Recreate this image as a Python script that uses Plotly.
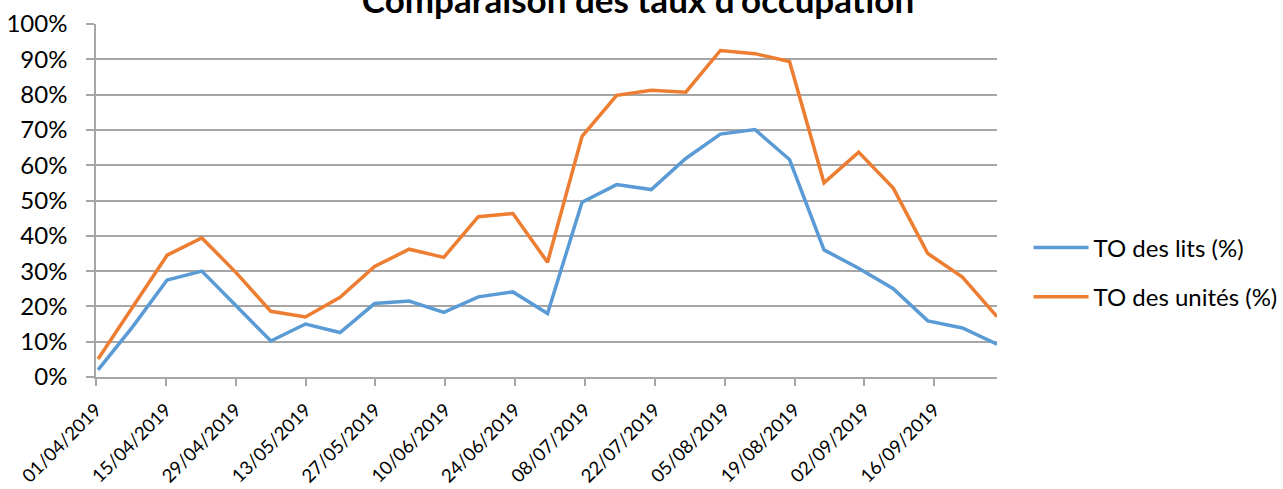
import plotly.graph_objects as go

# Data
dates = [
    "2019-04-01 10:00", "2019-04-08 08:00", "2019-04-15 06:00", "2019-04-22 05:00",
    "2019-04-29 03:00", "2019-05-06 01:00", "2019-05-12 23:30", "2019-05-19 22:00",
    "2019-05-26 20:00", "2019-06-02 18:30", "2019-06-09 17:00", "2019-06-16 15:00",
    "2019-06-23 13:30", "2019-06-30 12:00", "2019-07-07 10:00", "2019-07-14 08:30",
    "2019-07-21 07:00", "2019-07-28 05:00", "2019-08-04 03:30", "2019-08-11 01:30",
    "2019-08-18 00:00", "2019-08-24 22:00", "2019-08-31 20:30", "2019-09-07 19:00",
    "2019-09-14 17:00", "2019-09-21 15:30", "2019-09-28 14:00",
]
to_lits = [2.0, 14.2, 27.5, 30.0, 20.1, 10.2, 15.0, 12.6, 20.8, 21.5, 18.3, 22.7,
           24.1, 18.0, 49.5, 54.5, 53.1, 61.9, 68.8, 70.1, 61.6, 36.0, 30.8, 25.0,
           15.9, 13.9, 9.3]
to_unites = [5.1, 19.8, 34.5, 39.4, 29.5, 18.6, 17.0, 22.6, 31.3, 36.2, 33.9, 45.4,
             46.3, 32.5, 68.2, 79.8, 81.2, 80.7, 92.5, 91.6, 89.4, 55.0, 63.7, 53.5,
             35.0, 28.3, 17.1]
tick_dates = ["2019-04-01", "2019-04-15", "2019-04-29", "2019-05-13", "2019-05-27",
              "2019-06-10", "2019-06-24", "2019-07-08", "2019-07-22", "2019-08-05",
              "2019-08-19", "2019-09-02", "2019-09-16"]
tick_labels = ["01/04/2019", "15/04/2019", "29/04/2019", "13/05/2019", "27/05/2019",
               "10/06/2019", "24/06/2019", "08/07/2019", "22/07/2019", "05/08/2019",
               "19/08/2019", "02/09/2019", "16/09/2019"]
y_ticks = [0, 10, 20, 30, 40, 50, 60, 70, 80, 90, 100]
y_labels = ["0%", "10%", "20%", "30%", "40%", "50%", "60%", "70%", "80%", "90%", "100%"]

FONT = "Lato"
GRID = "#a6a6a6"

fig = go.Figure()
fig.add_trace(go.Scatter(x=dates, y=to_lits, mode="lines", name="TO des lits (%)",
                         line=dict(color="#5B9BD5", width=3.5), legendgroup="a"))
fig.add_trace(go.Scatter(x=dates, y=to_unites, mode="lines", name="TO des unités (%)",
                         line=dict(color="#ED7D31", width=3.5), legendgroup="b"))

fig.update_layout(
    width=1283, height=489,
    margin=dict(l=96, r=286, t=24, b=112, autoexpand=False),
    paper_bgcolor="white", plot_bgcolor="white",
    font=dict(family=FONT, color="#000000"),
    title=dict(text="<b>Comparaison des taux d'occupation</b>",
               x=638 / 1283, xanchor="center", xref="container",
               y=0.998, yanchor="middle", yref="container",
               font=dict(size=35, family=FONT, color="#000000")),
    showlegend=True,
    legend=dict(x=1.035, y=0.296, xanchor="left", yanchor="middle",
                font=dict(size=24, family=FONT), tracegroupgap=15,
                itemwidth=55,
                bgcolor="rgba(0,0,0,0)"),
    xaxis=dict(type="date", range=["2019-04-01", "2019-09-28 14:00"],
               tickvals=tick_dates, ticktext=tick_labels, tickangle=-45,
               tickfont=dict(size=18.5, family=FONT),
               showgrid=False, showline=True, linecolor=GRID, linewidth=1.5,
               ticks="outside", ticklen=7, tickcolor=GRID, tickwidth=1.5,
               ticklabelstandoff=6,
               zeroline=False),
    yaxis=dict(range=[0, 100], tickvals=y_ticks, ticktext=y_labels,
               tickfont=dict(size=24, family=FONT),
               showgrid=True, gridcolor=GRID, gridwidth=1.5,
               showline=True, linecolor=GRID, linewidth=1.5,
               ticks="outside", ticklen=8, tickcolor=GRID, tickwidth=1.5,
               ticklabelstandoff=14,
               zeroline=False),
)

fig.write_html("out.html", config={"displayModeBar": False},
               post_script="document.body.style.margin='0';document.body.style.overflow='hidden';")
